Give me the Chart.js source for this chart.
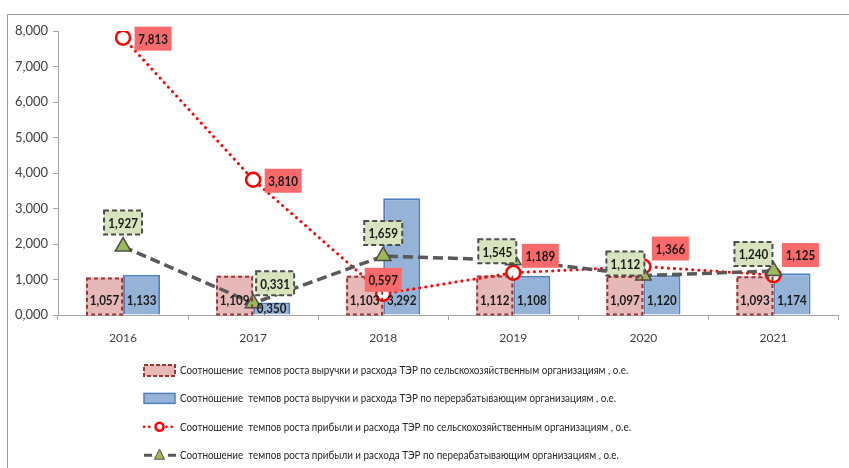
<!DOCTYPE html>
<html>
<head>
<meta charset="utf-8">
<script src="https://cdn.jsdelivr.net/npm/chart.js@4.4.1/dist/chart.umd.min.js"></script>
<style>
    html, body { margin: 0; padding: 0; background: #fff; }
    #wrap { width: 849px; height: 468px; position: relative; }
</style>
</head>
<body>
<div id="wrap"><canvas id="chart" width="849" height="468"></canvas></div>
<script>
// данные с рисунка
const years = ['2016', '2017', '2018', '2019', '2020', '2021'];
const revenueAgri = [1.057, 1.109, 1.103, 1.112, 1.097, 1.093];
const revenueProc = [1.133, 0.350, 3.292, 1.108, 1.120, 1.174];
const profitAgri = [7.813, 3.810, 0.597, 1.189, 1.366, 1.125];
const profitProc = [1.927, 0.331, 1.659, 1.545, 1.112, 1.240];
const yTicks = [0, 1, 2, 3, 4, 5, 6, 7, 8];
const seriesNames = [
    'Соотношение  темпов роста выручки и расхода ТЭР по сельскохозяйственным организациям , о.е.',
    'Соотношение  темпов роста выручки и расхода ТЭР по перерабатывающим организациям , о.е.',
    'Соотношение  темпов роста прибыли и расхода ТЭР по сельскохозяйственным организациям , о.е.',
    'Соотношение  темпов роста прибыли и расхода ТЭР по перерабатывающим организациям , о.е.'
];

// сдвиг подписей линий относительно точки (dx, dy), как в исходнике
const profitAgriLabelShift = [[30, 1], [30, 1], [0, -14], [27, -17], [27, -18], [27, -20]];
const profitProcLabelShift = [[0, -24], [22, -20], [0, -23], [-16, -9], [-18, -12], [-20, -17]];

const fmt = v => v.toFixed(3).replace('.', ',');
const FONT = 'Lato, "Open Sans", sans-serif';
const AXIS = '#a6a6a6';

// узкий текст (в оригинале Calibri) - сжимаем Lato по горизонтали
function narrowText(ctx, text, x, y, font, sx, align) {
    ctx.save();
    ctx.translate(x, y);
    ctx.scale(sx, 1);
    ctx.font = font;
    ctx.textAlign = align;
    ctx.textBaseline = 'middle';
    ctx.fillText(text, 0, 0);
    ctx.restore();
}

function labelBox(ctx, cx, cy, w, h, fill, stroke, text) {
    ctx.save();
    ctx.fillStyle = fill;
    ctx.fillRect(cx - w / 2, cy - h / 2, w, h);
    if (stroke) {
        ctx.setLineDash([5, 3]);
        ctx.strokeStyle = stroke;
        ctx.lineWidth = 2;
        ctx.strokeRect(cx - w / 2, cy - h / 2, w, h);
    }
    ctx.setLineDash([]);
    ctx.fillStyle = '#1a1a1a';
    narrowText(ctx, text, cx, cy + 1, 'bold 13.5px ' + FONT, 0.86, 'center');
    ctx.restore();
}

const decor = {
    id: 'decor',
    beforeDraw(chart) {
        const ctx = chart.ctx;
        ctx.save();
        ctx.strokeStyle = '#9a9a9a';
        ctx.lineWidth = 1;
        ctx.beginPath();
        ctx.moveTo(7.5, 468);
        ctx.lineTo(7.5, 14.5);
        ctx.lineTo(849, 14.5);
        ctx.stroke();
        ctx.restore();
    },
    afterDatasetsDraw(chart) {
        const ctx = chart.ctx;
        const y0 = chart.scales.y.getPixelForValue(0);

        // пунктирная рамка розовых столбиков
        ctx.save();
        ctx.setLineDash([4, 3]);
        ctx.strokeStyle = '#953735';
        ctx.lineWidth = 2;
        chart.getDatasetMeta(3).data.forEach(b => {
            const p = b.getProps(['x', 'y', 'base', 'width'], true);
            ctx.strokeRect(p.x - p.width / 2 + 1, p.y + 1, p.width - 2, p.base - p.y - 1);
        });
        ctx.restore();

        // подписи столбиков (у основания)
        [3, 2].forEach(di => {
            const vals = chart.data.datasets[di].data;
            chart.getDatasetMeta(di).data.forEach((b, i) => {
                const p = b.getProps(['x', 'y', 'base'], true);
                const cy = (p.base - p.y) < 28 ? y0 - 6 : y0 - 14;
                ctx.save();
                ctx.fillStyle = '#1a1a1a';
                narrowText(ctx, fmt(vals[i]), p.x, cy, 'bold 13.5px ' + FONT, 0.86, 'center');
                ctx.restore();
            });
        });

        // подписи линий
        chart.getDatasetMeta(0).data.forEach((pt, i) => {
            const s = profitProcLabelShift[i];
            labelBox(ctx, pt.x + s[0], pt.y + s[1], 38, 24, '#d7e4bd', '#4d4d4d', fmt(profitProc[i]));
        });
        chart.getDatasetMeta(1).data.forEach((pt, i) => {
            const s = profitAgriLabelShift[i];
            labelBox(ctx, pt.x + s[0], pt.y + s[1], 37, 24, '#fb6a6a', null, fmt(profitAgri[i]));
        });
    },
    afterDraw(chart) {
        // легенда
        const ctx = chart.ctx;
        const x0 = 143, x1 = 176, tx = 180;
        ctx.save();
        seriesNames.forEach((name, i) => {
            const cy = 370 + i * 28.4;
            const mx = (x0 + x1) / 2;
            ctx.save();
            if (i === 0) {
                ctx.fillStyle = '#e6b9b8';
                ctx.fillRect(x0 + 1, cy - 5, x1 - x0 - 2, 11);
                ctx.setLineDash([4, 2]);
                ctx.strokeStyle = '#953735';
                ctx.lineWidth = 2;
                ctx.strokeRect(x0 + 1, cy - 5, x1 - x0 - 2, 11);
            } else if (i === 1) {
                ctx.fillStyle = '#95b3d7';
                ctx.fillRect(x0 + 1, cy - 5, x1 - x0 - 2, 10);
                ctx.strokeStyle = '#4f81bd';
                ctx.lineWidth = 1.5;
                ctx.strokeRect(x0 + 1, cy - 5, x1 - x0 - 2, 10);
            } else if (i === 2) {
                ctx.strokeStyle = '#ff0000';
                ctx.lineWidth = 2.5;
                ctx.lineCap = 'round';
                ctx.setLineDash([0.1, 5]);
                ctx.beginPath();
                ctx.moveTo(x0 + 1, cy); ctx.lineTo(mx - 6, cy);
                ctx.moveTo(mx + 7, cy); ctx.lineTo(x1, cy);
                ctx.stroke();
                ctx.setLineDash([]);
                ctx.fillStyle = '#fff';
                ctx.lineWidth = 2.5;
                ctx.beginPath();
                ctx.arc(mx, cy, 4, 0, Math.PI * 2);
                ctx.fill();
                ctx.stroke();
            } else {
                ctx.strokeStyle = '#595959';
                ctx.lineWidth = 3;
                ctx.beginPath();
                ctx.moveTo(x0 + 1, cy); ctx.lineTo(x0 + 9, cy);
                ctx.moveTo(x1 - 8, cy); ctx.lineTo(x1, cy);
                ctx.stroke();
                ctx.fillStyle = '#9bbb59';
                ctx.strokeStyle = '#4d4d4d';
                ctx.lineWidth = 1;
                ctx.beginPath();
                ctx.moveTo(mx, cy - 6); ctx.lineTo(mx + 5, cy + 4); ctx.lineTo(mx - 5, cy + 4);
                ctx.closePath();
                ctx.fill();
                ctx.stroke();
            }
            ctx.restore();
            ctx.fillStyle = '#262626';
            narrowText(ctx, name, tx, cy, '12px ' + FONT, 0.82, 'left');
        });
        ctx.restore();
    }
};

new Chart(document.getElementById('chart').getContext('2d'), {
    type: 'bar',
    data: {
        labels: years,
        datasets: [
            {
                type: 'line',
                label: seriesNames[3],
                data: profitProc,
                order: 0,
                borderColor: '#595959',
                borderWidth: 3.5,
                borderDash: [10, 5],
                pointStyle: 'triangle',
                pointRadius: 9,
                pointBackgroundColor: '#9bbb59',
                pointBorderColor: '#4d4d4d',
                pointBorderWidth: 1.5,
                tension: 0
            },
            {
                type: 'line',
                label: seriesNames[2],
                data: profitAgri,
                order: 1,
                borderColor: '#ff0000',
                borderWidth: 3,
                borderDash: [0.1, 6],
                borderCapStyle: 'round',
                pointRadius: 7,
                pointBackgroundColor: '#ffffff',
                pointBorderColor: '#ff0000',
                pointBorderWidth: 2.5,
                tension: 0
            },
            {
                label: seriesNames[1],
                data: revenueProc,
                order: 3,
                backgroundColor: '#95b3d7',
                borderColor: '#4f81bd',
                borderWidth: 2,
                categoryPercentage: 0.57,
                barPercentage: 1
            },
            {
                label: seriesNames[0],
                data: revenueAgri,
                order: 2,
                backgroundColor: '#e6b9b8',
                borderWidth: 0,
                categoryPercentage: 0.57,
                barPercentage: 1
            }
        ]
    },
    options: {
        responsive: false,
        animation: false,
        layout: { padding: { left: 0, top: 31, right: 1, bottom: 123 } },
        plugins: {
            legend: { display: false },
            tooltip: { enabled: false }
        },
        scales: {
            x: {
                offset: true,
                grid: { offset: true, drawOnChartArea: false, color: AXIS, tickLength: 5 },
                border: { color: AXIS },
                ticks: { color: '#404040', font: { family: FONT, size: 12 }, padding: 11 },
                afterFit: s => { s.height = 30; }
            },
            y: {
                min: 0,
                max: 8,
                afterBuildTicks: s => { s.ticks = yTicks.map(v => ({ value: v })); },
                grid: { drawOnChartArea: false, color: AXIS, tickLength: 5 },
                border: { color: AXIS },
                ticks: {
                    color: '#404040',
                    font: { family: FONT, size: 13 },
                    padding: 5,
                    callback: v => fmt(v)
                },
                afterFit: s => { s.width = 58; }
            }
        }
    },
    plugins: [decor]
});
</script>
</body>
</html>
